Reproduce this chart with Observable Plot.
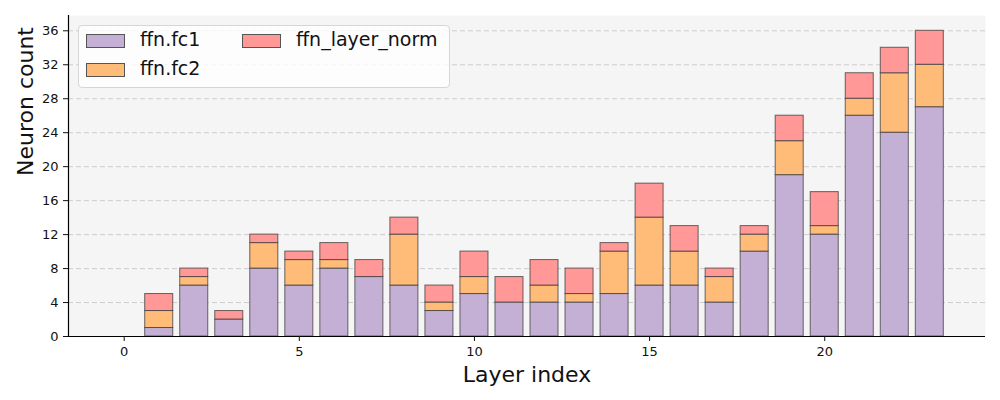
<!DOCTYPE html>
<html>
<head>
<meta charset="utf-8">
<script src="https://cdn.jsdelivr.net/npm/d3@7"></script>
<script src="https://cdn.jsdelivr.net/npm/@observablehq/plot@0.6"></script>
<style>
  html, body { margin: 0; padding: 0; background: #fff; }
  #wrap { position: relative; width: 1000px; height: 400px; font-family: "DejaVu Sans", sans-serif; }
  #chart svg g[aria-label$="tick label"], #chart svg g[aria-label$="tick label"] text { font-size: 13px !important; }
  #legend {
    position: absolute; left: 78px; top: 25px; width: 370px; height: 61px;
    border: 1px solid #d6d6d6; border-radius: 4px; background: rgba(255,255,255,0.8);
    font-size: 19px; color: #111; box-sizing: content-box;
  }
  .item { position: absolute; height: 20px; line-height: 20px; white-space: nowrap; }
  .sw { position: absolute; top: 2px; width: 37px; height: 12px; border: 1px solid #555; }
  .lab { position: absolute; left: 54px; top: -3px; }
</style>
</head>
<body>
<div id="wrap">
  <div id="chart"></div>
  <div id="legend"></div>
</div>
<script>
const layers = d3.range(0, 24);
const series = ["ffn.fc1", "ffn.fc2", "ffn_layer_norm"];
const colors = ["#c5b0d5", "#ffbb78", "#ff9896"];
const fc1  = [0, 1, 6, 2, 8, 6, 8, 7, 6, 3, 5, 4, 4, 4, 5, 6, 6, 4, 10, 19, 12, 26, 24, 27];
const fc2  = [0, 2, 1, 0, 3, 3, 1, 0, 6, 1, 2, 0, 2, 1, 5, 8, 4, 3, 2, 4, 1, 2, 7, 5];
const norm = [0, 2, 1, 1, 1, 1, 2, 2, 2, 2, 3, 3, 3, 3, 1, 4, 3, 1, 1, 3, 4, 3, 3, 4];
const yTicks = d3.range(0, 37, 4);
const xTicks = [0, 5, 10, 15, 20];
const xLabel = "Layer index";
const yLabel = "Neuron count";

const values = [fc1, fc2, norm];
const rows = [];
layers.forEach((layer, i) => {
  let base = 0;
  values.forEach((arr, s) => {
    const v = arr[i];
    if (v > 0) rows.push({layer, series: series[s], y1: base, y2: base + v});
    base += v;
  });
});
const totals = layers.map((_, i) => fc1[i] + fc2[i] + norm[i]);
const barW = 0.8;
const xSpan = (layers[layers.length - 1] + barW / 2) - (layers[0] - barW / 2);
const xDomain = [layers[0] - barW / 2 - 0.05 * xSpan, layers[layers.length - 1] + barW / 2 + 0.05 * xSpan];
const yDomain = [0, d3.max(totals) * 1.05];

const chart = Plot.plot({
  width: 1000,
  height: 400,
  marginLeft: 68,
  marginRight: 15,
  marginTop: 15,
  marginBottom: 64,
  style: {fontFamily: "DejaVu Sans, sans-serif", fontSize: "13px", color: "#111", background: "#fff"},
  x: {type: "linear", domain: xDomain},
  y: {domain: yDomain},
  color: {domain: series, range: colors},
  marks: [
    Plot.frame({fill: "#f5f5f5", stroke: "none"}),
    Plot.ruleY(yTicks, {stroke: "#c8c8c8", strokeWidth: 0.9, strokeDasharray: "5,3"}),
    Plot.rect(rows, {
      x1: d => d.layer - barW / 2,
      x2: d => d.layer + barW / 2,
      y1: "y1", y2: "y2",
      fill: "series",
      stroke: "#3a3a3a", strokeOpacity: 0.75, strokeWidth: 1
    }),
    Plot.ruleY([yDomain[0]], {stroke: "#000", strokeWidth: 1.2}),
    Plot.ruleX([xDomain[0]], {stroke: "#000", strokeWidth: 1.2}),
    Plot.axisY({ticks: yTicks, tickSize: 5, tickPadding: 5, label: null, fontSize: 13}),
    Plot.axisX({ticks: xTicks, tickSize: 5, tickPadding: 5, label: null, fontSize: 13}),
    Plot.text([xLabel], {frameAnchor: "bottom", lineAnchor: "bottom", dy: 45, fontSize: 22, fill: "#111", text: d => d}),
    Plot.text([yLabel], {frameAnchor: "left", lineAnchor: "bottom", rotate: -90, dx: -36, fontSize: 22, fill: "#111", text: d => d})
  ]
});
chart.querySelectorAll('g[aria-label$="tick label"]').forEach(g => {
  g.setAttribute("font-size", 13);
  g.querySelectorAll("text").forEach(t => t.setAttribute("font-size", 13));
});
document.getElementById("chart").appendChild(chart);

const legend = document.getElementById("legend");
const pos = [[7, 6], [7, 35], [163, 6]];
series.forEach((s, i) => {
  const it = document.createElement("div");
  it.className = "item";
  it.style.left = pos[i][0] + "px";
  it.style.top = pos[i][1] + "px";
  const sw = document.createElement("div");
  sw.className = "sw";
  sw.style.background = colors[i];
  const lab = document.createElement("div");
  lab.className = "lab";
  lab.textContent = s;
  it.appendChild(sw); it.appendChild(lab);
  legend.appendChild(it);
});
</script>
</body>
</html>
